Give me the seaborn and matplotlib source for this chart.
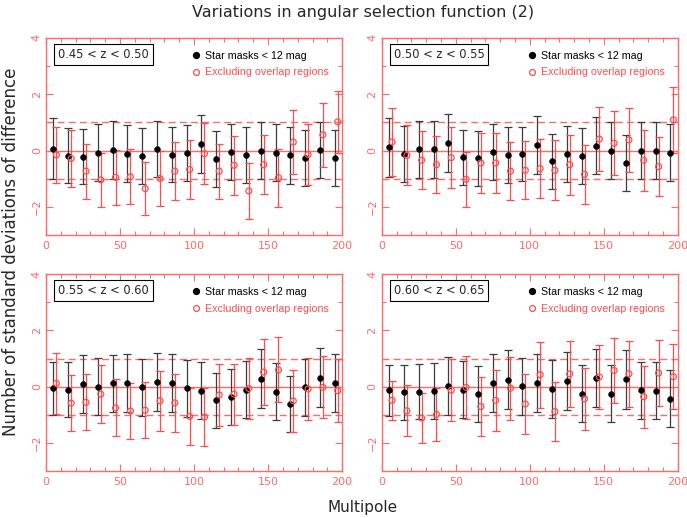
import matplotlib
matplotlib.use("Agg")
import matplotlib.pyplot as plt
from matplotlib.ticker import MultipleLocator
from matplotlib.lines import Line2D
import pandas as pd
import seaborn as sns

# multipole bins (star-mask points and the slightly shifted overlap-excluded points)
multipole = [5, 15, 25, 35, 45, 55, 65, 75, 85, 95,
             105, 115, 125, 135, 145, 155, 165, 175, 185, 195]
multipole_excl = [7, 17, 27, 37, 47, 57, 67, 77, 87, 97,
                  107, 117, 127, 137, 147, 157, 167, 177, 187, 197]

redshift_bins = ["0.45 < z < 0.50", "0.50 < z < 0.55",
                 "0.55 < z < 0.60", "0.60 < z < 0.65"]

# 0.45 < z < 0.50
star_1 = [0.06, -0.18, -0.21, -0.07, 0.02, -0.11, -0.20, 0.06, -0.14, -0.08,
          0.24, -0.31, -0.06, -0.15, 0.00, -0.07, -0.17, -0.25, 0.02, -0.27]
star_err_1 = [1.08, 0.97, 0.98, 1.00, 1.02, 1.00, 0.99, 1.00, 0.99, 1.00,
              1.02, 0.99, 1.00, 1.00, 1.00, 1.01, 1.00, 0.99, 1.00, 0.99]
excl_1 = [-0.15, -0.28, -0.73, -1.04, -0.95, -0.93, -1.35, -0.99, -0.73, -0.67,
          -0.11, -0.73, -0.52, -1.43, -0.50, -0.96, 0.30, -0.14, 0.56, 1.02]
excl_err_1 = [1.00, 1.02, 0.98, 0.95, 0.97, 0.98, 0.95, 0.99, 1.03, 1.04,
              1.08, 0.98, 1.05, 0.98, 1.04, 1.03, 1.13, 1.08, 1.13, 1.10]

# 0.50 < z < 0.55
star_2 = [0.12, -0.12, 0.05, 0.05, 0.26, -0.24, -0.28, -0.06, -0.17, -0.12,
          0.19, -0.38, -0.12, -0.18, 0.17, 0.00, -0.45, 0.00, 0.00, -0.07]
star_err_2 = [1.04, 0.98, 1.01, 1.01, 1.03, 0.98, 0.97, 0.99, 0.99, 0.97,
              1.02, 0.98, 1.00, 0.99, 1.01, 1.01, 0.99, 1.00, 1.00, 1.00]
excl_2 = [0.31, -0.17, -0.34, -0.50, -0.25, -1.02, -0.44, -0.44, -0.73, -0.70,
          -0.64, -0.70, -0.50, -0.84, 0.41, 0.26, 0.38, -0.34, -0.57, 1.09]
excl_err_2 = [1.21, 1.06, 1.04, 1.01, 1.08, 0.97, 1.05, 1.05, 1.04, 1.03,
              1.05, 1.06, 1.06, 1.04, 1.13, 1.13, 1.13, 1.08, 1.05, 1.18]

# 0.55 < z < 0.60
star_3 = [-0.06, -0.10, 0.11, 0.01, 0.12, 0.13, -0.02, 0.17, 0.15, -0.06,
          -0.14, -0.48, -0.35, -0.10, 0.29, -0.18, -0.62, -0.02, 0.32, 0.12]
star_err_3 = [0.93, 0.98, 1.03, 1.01, 1.02, 1.04, 1.02, 1.03, 1.03, 1.01,
              1.01, 0.98, 0.99, 1.00, 1.04, 1.01, 0.99, 1.01, 1.04, 1.03]
excl_3 = [0.12, -0.58, -0.55, -0.26, -0.75, -0.86, -0.83, -0.50, -0.57, -1.05,
          -1.07, -0.29, -0.26, -0.06, 0.52, 0.60, -0.50, -0.08, -0.02, -0.14]
excl_err_3 = [1.09, 0.99, 1.00, 1.02, 1.01, 1.00, 1.00, 1.06, 1.04, 1.00,
              1.03, 1.09, 1.08, 1.09, 1.16, 1.15, 1.09, 1.11, 1.10, 1.11]

# 0.60 < z < 0.65
star_4 = [-0.13, -0.20, -0.17, -0.15, 0.02, -0.11, -0.25, 0.14, 0.25, 0.02,
          0.14, -0.08, 0.20, -0.24, 0.31, -0.24, 0.27, -0.13, -0.14, -0.42]
star_err_4 = [0.91, 0.98, 0.98, 1.00, 1.03, 1.01, 1.00, 1.03, 1.04, 1.01,
              1.04, 1.02, 1.04, 1.01, 1.04, 1.01, 1.05, 1.02, 1.01, 1.01]
excl_4 = [-0.48, -0.85, -1.11, -0.98, -0.12, -0.02, -0.70, -0.48, -0.05, -0.61,
          0.43, -0.88, 0.46, -0.43, 0.35, 0.58, 0.46, -0.35, 0.49, 0.36]
excl_err_4 = [0.68, 0.91, 0.89, 0.95, 1.10, 1.12, 1.04, 1.08, 1.12, 1.07,
              1.17, 1.05, 1.16, 1.09, 1.15, 1.16, 1.16, 1.10, 1.16, 1.16]

star_vals = [star_1, star_2, star_3, star_4]
star_errs = [star_err_1, star_err_2, star_err_3, star_err_4]
excl_vals = [excl_1, excl_2, excl_3, excl_4]
excl_errs = [excl_err_1, excl_err_2, excl_err_3, excl_err_4]

FRAME_RED = "#ff6a6a"
POINT_RED = "#ff4d4d"
BAR_BLACK = "#3c3c3c"

sns.set_style("ticks")
plt.rcParams["font.family"] = ["DejaVu Sans"]

fig = plt.figure(figsize=(6.87, 5.18), dpi=100)

# axes boxes (left, bottom, width, height) in figure fractions
boxes = [(0.067, 0.546, 0.431, 0.381), (0.5556, 0.546, 0.431, 0.381),
         (0.067, 0.090, 0.431, 0.381), (0.5556, 0.090, 0.431, 0.381)]


def dibujar_panel(ax, label, y_star, e_star, y_excl, e_excl):
    df_star = pd.DataFrame({"l": multipole, "dev": y_star, "err": e_star})
    df_excl = pd.DataFrame({"l": multipole_excl, "dev": y_excl, "err": e_excl})

    # reference lines at 0 and +/- 1 sigma
    ax.axhline(0, color=FRAME_RED, lw=1.0, zorder=1)
    for lvl in (-1, 1):
        ax.axhline(lvl, color=FRAME_RED, lw=1.0, ls=(0, (5, 3)), zorder=1)

    ax.errorbar(df_star["l"], df_star["dev"], yerr=df_star["err"], fmt="none",
                ecolor=BAR_BLACK, elinewidth=0.9, capsize=3, capthick=0.9, zorder=2)
    ax.errorbar(df_excl["l"], df_excl["dev"], yerr=df_excl["err"], fmt="none",
                ecolor=POINT_RED, elinewidth=0.9, capsize=3, capthick=0.9, zorder=2)

    sns.scatterplot(data=df_star, x="l", y="dev", ax=ax, color="black",
                    edgecolor="black", s=18, zorder=3)
    sns.scatterplot(data=df_excl, x="l", y="dev", ax=ax, facecolors="none",
                    edgecolor=POINT_RED, linewidth=0.9, s=18, zorder=3)

    ax.set_xlim(0, 200)
    ax.set_ylim(-3, 4)
    ax.set_xlabel("")
    ax.set_ylabel("")
    ax.xaxis.set_major_locator(MultipleLocator(50))
    ax.xaxis.set_minor_locator(MultipleLocator(10))
    ax.yaxis.set_major_locator(MultipleLocator(2))
    ax.yaxis.set_minor_locator(MultipleLocator(1))
    ax.tick_params(which="both", direction="in", top=True, right=True,
                   color=FRAME_RED, labelcolor=FRAME_RED, labelsize=8, width=0.8)
    ax.tick_params(which="major", length=5, pad=4)
    ax.tick_params(which="minor", length=3)
    ax.tick_params(axis="y", labelrotation=90, pad=3)
    for t in ax.get_yticklabels():
        t.set_va("center")
    for sp in ax.spines.values():
        sp.set_color(FRAME_RED)
        sp.set_linewidth(1.0)

    ax.text(0.04, 0.915, label, transform=ax.transAxes, fontsize=8.3,
            va="center", ha="left",
            bbox=dict(boxstyle="square,pad=0.35", fc="white", ec="black", lw=0.8))

    handles = [Line2D([], [], ls="none", marker="o", ms=4.2, color="black"),
               Line2D([], [], ls="none", marker="o", ms=4.2, mfc="none",
                      mec=POINT_RED, mew=0.9)]
    ax.legend(handles, ["Star masks < 12 mag", "Excluding overlap regions"],
              loc="upper left", bbox_to_anchor=(0.475, 0.955), frameon=False,
              prop={"family": ["Liberation Sans", "DejaVu Sans"], "size": 7.7},
              handletextpad=0.35, labelspacing=0.6, handlelength=1.0,
              borderaxespad=0, labelcolor=["black", POINT_RED])


for i, box in enumerate(boxes):
    ax = fig.add_axes(box)
    dibujar_panel(ax, redshift_bins[i], star_vals[i], star_errs[i],
                  excl_vals[i], excl_errs[i])

fig.text(0.528, 0.975, "Variations in angular selection function (2)",
         ha="center", va="center", fontsize=11.5)
fig.text(0.528, 0.021, "Multipole", ha="center", va="center", fontsize=11)
fig.text(0.016, 0.514, "Number of standard deviations of difference",
         ha="center", va="center", rotation=90, fontsize=12)

fig.savefig("out.png", dpi=100)
